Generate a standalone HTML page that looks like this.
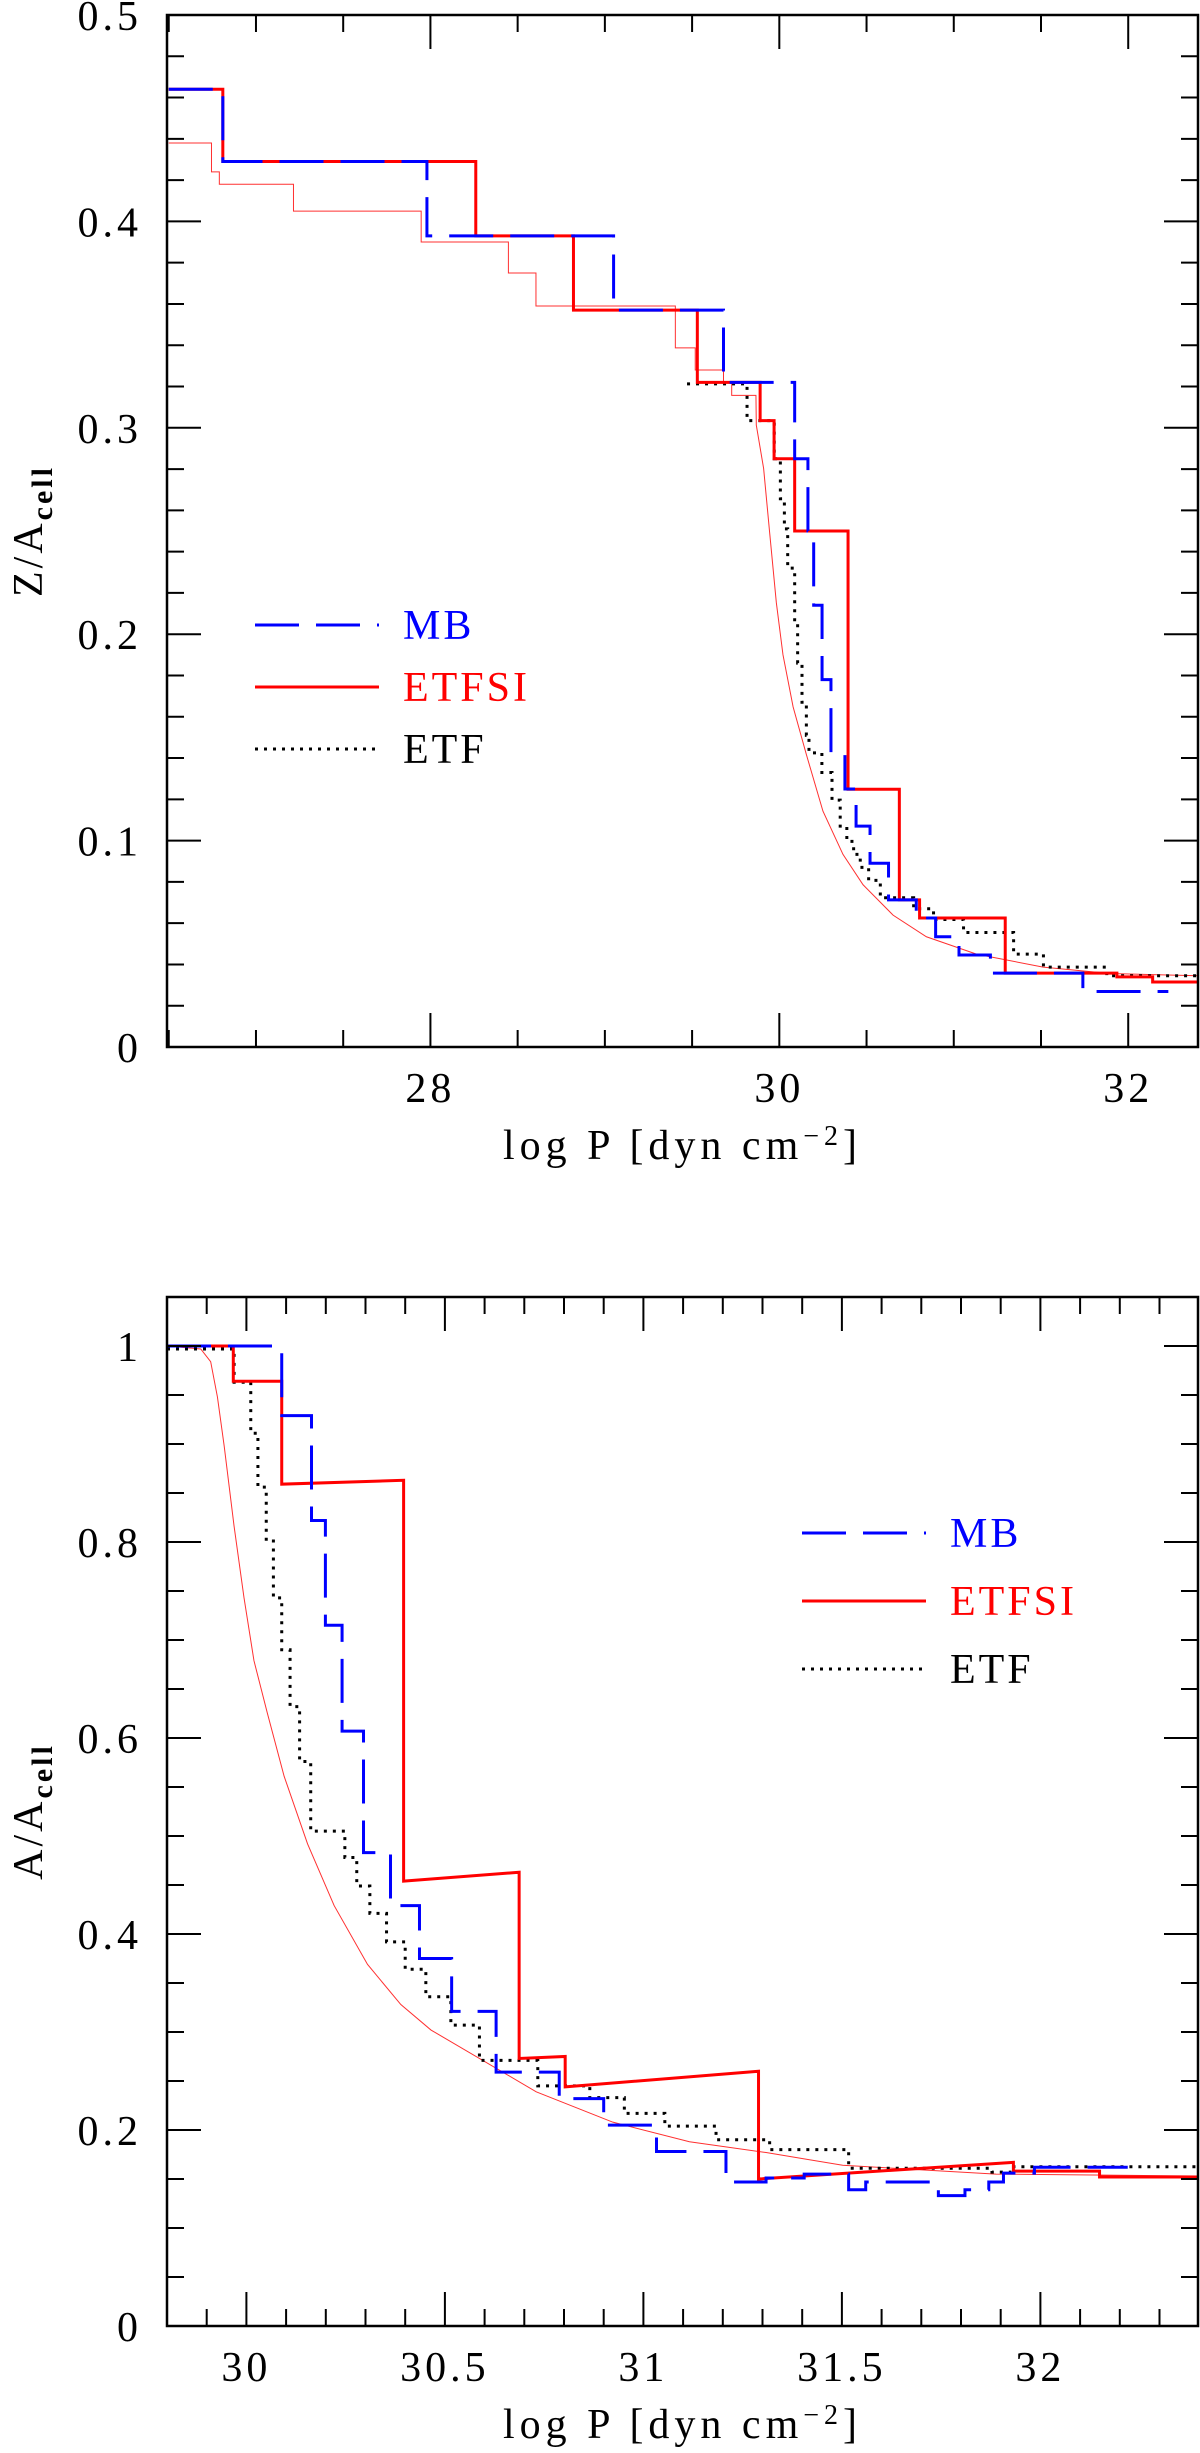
<!DOCTYPE html>
<html><head><meta charset="utf-8">
<style>
html,body{margin:0;padding:0;background:#fff;}
svg{display:block;}
text{font-family:"Liberation Serif","DejaVu Serif",serif;}
</style></head>
<body>
<svg id="fig" width="1200" height="2453" viewBox="0 0 1200 2453" xmlns="http://www.w3.org/2000/svg"></svg>
<script>
// ---- Top panel data (Z/A_cell vs log P) ----
const mbTopX = [26.5, 26.81, 27.98, 29.05, 29.68, 30.088, 30.164, 30.197, 30.245, 30.296, 30.376, 30.44, 30.52, 30.626, 30.785, 30.896, 31.03, 31.21, 31.74, 32.23];
const mbTopY = [0.464, 0.429, 0.393, 0.357, 0.322, 0.285, 0.250, 0.214, 0.178, 0.1425, 0.125, 0.107, 0.089, 0.0713, 0.0625, 0.0534, 0.0446, 0.0358, 0.0269];
const etfsiTopX = [26.5, 26.81, 28.26, 28.82, 29.53, 29.89, 29.97, 30.088, 30.394, 30.688, 30.804, 31.295, 31.935, 32.14, 32.41];
const etfsiTopY = [0.464, 0.429, 0.393, 0.357, 0.322, 0.3035, 0.285, 0.250, 0.1249, 0.0713, 0.0625, 0.0358, 0.034, 0.0315];
const etfTopX = [29.471, 29.815, 29.971, 30.006, 30.029, 30.048, 30.088, 30.105, 30.13, 30.155, 30.17, 30.244, 30.302, 30.349, 30.387, 30.426, 30.464, 30.512, 30.579, 30.77, 30.884, 31.056, 31.343, 31.514, 31.877, 32.41];
const etfTopY = [0.3213, 0.3035, 0.285, 0.2656, 0.251, 0.232, 0.207, 0.186, 0.167, 0.151, 0.1425, 0.133, 0.1196, 0.107, 0.0996, 0.0933, 0.087, 0.0807, 0.0723, 0.067, 0.0618, 0.0555, 0.045, 0.0387, 0.0345];
const refStepTopX = [26.5, 26.745, 26.79, 27.215, 27.947, 28.447, 28.605, 29.404, 29.518, 29.68, 29.727, 29.866];
const refStepTopY = [0.438, 0.424, 0.418, 0.405, 0.390, 0.375, 0.359, 0.3387, 0.328, 0.3219, 0.3157];
const refCurveTopX = [29.868, 29.91, 29.945, 29.983, 30.021, 30.079, 30.155, 30.25, 30.365, 30.48, 30.652, 30.843, 31.13, 31.512, 31.894, 32.41];
const refCurveTopY = [0.3013, 0.2803, 0.2488, 0.2152, 0.19, 0.1648, 0.1417, 0.1143, 0.0933, 0.0786, 0.0639, 0.0534, 0.045, 0.0387, 0.0356, 0.0345];
const topXTicks = [28, 30, 32];
const topYTicks = [0, 0.1, 0.2, 0.3, 0.4, 0.5];
const topYTickLabels = ["0", "0.1", "0.2", "0.3", "0.4", "0.5"];

// ---- Bottom panel data (A/A_cell vs log P) ----
const mbBotX = [29.8, 30.089, 30.164, 30.199, 30.241, 30.295, 30.363, 30.436, 30.517, 30.629, 30.788, 30.9, 31.033, 31.208, 31.309, 31.405, 31.517, 31.56, 31.743, 31.81, 31.87, 31.907, 31.985, 32.22];
const mbBotY = [1.0, 0.929, 0.822, 0.715, 0.607, 0.483, 0.429, 0.375, 0.321, 0.259, 0.232, 0.205, 0.178, 0.147, 0.151, 0.155, 0.139, 0.147, 0.133, 0.139, 0.147, 0.156, 0.162];
const etfsiBotX = [29.8, 29.967, 29.967, 30.089, 30.089, 30.396, 30.396, 30.687, 30.687, 30.803, 30.803, 31.29, 31.29, 31.932, 31.932, 32.149, 32.149, 32.4];
const etfsiBotY = [1.0, 1.0, 0.964, 0.964, 0.859, 0.863, 0.454, 0.463, 0.273, 0.275, 0.244, 0.260, 0.15, 0.167, 0.158, 0.158, 0.152, 0.152];
const etfBotX = [29.8, 29.969, 30.011, 30.029, 30.05, 30.068, 30.089, 30.11, 30.134, 30.162, 30.248, 30.278, 30.311, 30.353, 30.4, 30.452, 30.515, 30.587, 30.734, 30.865, 30.952, 31.054, 31.183, 31.318, 31.517, 31.878, 31.927, 32.4];
const etfBotY = [0.997, 0.963, 0.911, 0.856, 0.801, 0.743, 0.69, 0.632, 0.576, 0.505, 0.478, 0.449, 0.421, 0.392, 0.364, 0.336, 0.307, 0.271, 0.245, 0.233, 0.217, 0.204, 0.19, 0.18, 0.161, 0.157, 0.1625];
const refBotX = [29.8, 29.885, 29.91, 29.927, 29.944, 29.969, 29.994, 30.019, 30.053, 30.095, 30.154, 30.221, 30.305, 30.389, 30.465, 30.73, 30.923, 31.116, 31.309, 31.502, 31.888, 32.4];
const refBotY = [1.0, 0.997, 0.984, 0.948, 0.898, 0.816, 0.743, 0.679, 0.625, 0.561, 0.492, 0.429, 0.369, 0.328, 0.302, 0.239, 0.208, 0.188, 0.177, 0.164, 0.155, 0.153];
const botXTicks = [30, 30.5, 31, 31.5, 32];
const botXTickLabels = ["30", "30.5", "31", "31.5", "32"];
const botYTicks = [0, 0.2, 0.4, 0.6, 0.8, 1];
const botYTickLabels = ["0", "0.2", "0.4", "0.6", "0.8", "1"];

const NS = "http://www.w3.org/2000/svg";
const fig = document.getElementById("fig");
function mk(tag, attrs, parent) {
  const e = document.createElementNS(NS, tag);
  for (const k in attrs) e.setAttribute(k, attrs[k]);
  (parent || fig).appendChild(e);
  return e;
}

function makeAxes(o) {
  const sx = v => o.L + (v - o.x0) / (o.x1 - o.x0) * (o.R - o.L);
  const sy = v => o.B - (v - o.y0) / (o.y1 - o.y0) * (o.B - o.T);
  return {sx, sy, o};
}

function drawFrame(ax, g, xt, xtl, yt, ytl, xMinor, yMinor) {
  const o = ax.o;
  const ticks = mk("g", {stroke: "#000", "stroke-width": 2}, g);
  
  
  const eps = 1e-9;
  for (let v = Math.ceil(o.x0 / xMinor - eps) * xMinor; v <= o.x1 + eps; v += xMinor) {
    const isMaj = xt.some(t => Math.abs(t - v) < 1e-6);
    const len = isMaj ? 34 : 17;
    const x = ax.sx(v);
    mk("line", {x1: x, x2: x, y1: o.B, y2: o.B - len}, ticks);
    mk("line", {x1: x, x2: x, y1: o.T, y2: o.T + len}, ticks);
  }
  for (let v = Math.ceil(o.y0 / yMinor - eps) * yMinor; v <= o.y1 + eps; v += yMinor) {
    const isMaj = yt.some(t => Math.abs(t - v) < 1e-6);
    const len = isMaj ? 34 : 17;
    const y = ax.sy(v);
    mk("line", {x1: o.L, x2: o.L + len, y1: y, y2: y}, ticks);
    mk("line", {x1: o.R, x2: o.R - len, y1: y, y2: y}, ticks);
  }
  xt.forEach((v, i) => {
    const t = mk("text", {x: ax.sx(v), y: o.B + 55, "font-size": 42, "text-anchor": "middle", "letter-spacing": 4}, g);
    t.textContent = xtl[i];
    
    
  });
  yt.forEach((v, i) => {
    const t = mk("text", {x: 142, y: ax.sy(v) + 15, "font-size": 42, "text-anchor": "end", "letter-spacing": 4}, g);
    t.textContent = ytl[i];
    
    
  });
  const fr = mk("rect", {x: o.L, y: o.T, width: o.R - o.L, height: o.B - o.T, fill: "none", stroke: "#000", "stroke-width": 2.5}, g);
  
  
}

function stepPath(ax, xs, ys) {
  let d = "M" + ax.sx(xs[0]) + "," + ax.sy(ys[0]);
  for (let i = 0; i < ys.length; i++) {
    d += " L" + ax.sx(xs[i + 1]) + "," + ax.sy(ys[i]);
    if (i + 1 < ys.length) d += " L" + ax.sx(xs[i + 1]) + "," + ax.sy(ys[i + 1]);
  }
  return d;
}
function polyPath(ax, xs, ys) {
  return xs.map((x, i) => (i ? "L" : "M") + ax.sx(x) + "," + ax.sy(ys[i])).join(" ");
}

const styles = {
  mb: {stroke: "#0000ff", "stroke-width": 3, "stroke-dasharray": "44 17", fill: "none"},
  etfsi: {stroke: "#ff0000", "stroke-width": 3, fill: "none"},
  etf: {stroke: "#000", "stroke-width": 3, "stroke-dasharray": "3 6", fill: "none"},
  ref: {stroke: "#ff3030", "stroke-width": 1, fill: "none"}
};
function series(g, d, st, name) {
  const a = Object.assign({d: d}, st);
  const p = mk("path", a, g);
  
  
  return p;
}

function legend(g, x, y, gap) {
  const items = [["MB", styles.mb, "#0000ff"], ["ETFSI", styles.etfsi, "#ff0000"], ["ETF", styles.etf, "#000"]];
  items.forEach((it, i) => {
    const yy = y + i * gap;
    const le = mk("g", {}, g);
    
    
    const a = Object.assign({x1: x, x2: x + 124, y1: yy, y2: yy}, it[1]);
    delete a.fill;
    mk("line", a, le);
    const t = mk("text", {x: x + 148, y: yy + 14, "font-size": 42, fill: it[2], "letter-spacing": 3}, le);
    t.textContent = it[0];
  });
}

function axisTitles(g, o, ytitle) {
  const cx = (o.L + o.R) / 2;
  const xt = mk("text", {x: cx, y: o.B + 112, "font-size": 42, "text-anchor": "middle", "letter-spacing": 5}, g);
  xt.innerHTML = 'log P [dyn cm<tspan dy="-14" font-size="28">−2</tspan><tspan dy="14">]</tspan>';
  
  
  const cy = (o.T + o.B) / 2;
  const yt = mk("text", {x: 0, y: 0, "font-size": 42, "text-anchor": "middle", "letter-spacing": 3, transform: "translate(42," + cy + ") rotate(-90)"}, g);
  yt.innerHTML = ytitle + '/A<tspan dy="10" font-size="30" font-weight="bold">cell</tspan>';
  
  
}

// ---- Top panel ----
const gTop = mk("g", {});


const axT = makeAxes({L: 167, R: 1198, T: 15, B: 1047, x0: 26.49, x1: 32.4, y0: 0, y1: 0.5});
const clipT = mk("clipPath", {id: "clipT"}, gTop);
mk("rect", {x: 167, y: 15, width: 1031, height: 1032}, clipT);
const sT = mk("g", {"clip-path": "url(#clipT)"}, gTop);
series(sT, stepPath(axT, refStepTopX, refStepTopY) + " " + polyPath(axT, refCurveTopX, refCurveTopY).replace(/^M/, "L"), styles.ref, "reference-thin-line");
series(sT, stepPath(axT, etfTopX, etfTopY), styles.etf, "etf-line");
series(sT, stepPath(axT, etfsiTopX, etfsiTopY), styles.etfsi, "etfsi-line");
series(sT, stepPath(axT, mbTopX, mbTopY), styles.mb, "mb-line");
drawFrame(axT, gTop, topXTicks, topXTicks.map(String), topYTicks, topYTickLabels, 0.5, 0.02);
legend(gTop, 255, 625, 62);
axisTitles(gTop, axT.o, "Z");

// ---- Bottom panel ----
const gBot = mk("g", {});


const axB = makeAxes({L: 167, R: 1198, T: 1297, B: 2326, x0: 29.8, x1: 32.397, y0: 0, y1: 1.05});
const clipB = mk("clipPath", {id: "clipB"}, gBot);
mk("rect", {x: 167, y: 1297, width: 1031, height: 1029}, clipB);
const sB = mk("g", {"clip-path": "url(#clipB)"}, gBot);
series(sB, polyPath(axB, refBotX, refBotY), styles.ref, "reference-thin-line");
series(sB, stepPath(axB, etfBotX, etfBotY), styles.etf, "etf-line");
series(sB, polyPath(axB, etfsiBotX, etfsiBotY), styles.etfsi, "etfsi-line");
series(sB, stepPath(axB, mbBotX, mbBotY), styles.mb, "mb-line");
drawFrame(axB, gBot, botXTicks, botXTickLabels, botYTicks, botYTickLabels, 0.1, 0.05);
legend(gBot, 802, 1533, 68);
axisTitles(gBot, axB.o, "A");
</script>
</body></html>
